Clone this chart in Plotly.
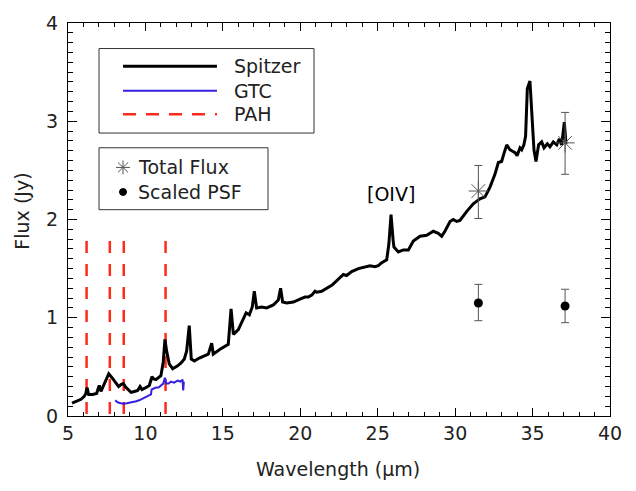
import plotly.graph_objects as go

# ---------------- data ----------------
spitzer_x = [5.26, 5.52, 5.84, 6.05, 6.15, 6.23, 6.33, 6.59, 6.85, 6.95, 7.02, 7.13, 7.28, 7.45, 7.63,
             7.84, 8.1, 8.27, 8.42, 8.57, 8.75, 9.07, 9.28, 9.5, 9.65, 9.78, 10.04, 10.25, 10.42, 10.51,
             10.68, 11.0, 11.15, 11.26, 11.37, 11.54, 11.76, 12.08, 12.3, 12.51, 12.66, 12.83, 12.96,
             13.16, 13.48, 13.8, 14.06, 14.28, 14.38, 14.82, 15.35, 15.53, 15.68, 16.0, 16.32, 16.5,
             16.71, 16.9, 17.03, 17.18, 17.5, 17.83, 18.26, 18.58, 18.73, 18.86, 19.12, 19.55, 19.98,
             20.3, 20.52, 20.74, 20.95, 21.06, 21.38, 21.7, 22.03, 22.24, 22.45, 22.78, 22.99, 23.32,
             23.75, 24.07, 24.5, 24.82, 25.04, 25.26, 25.58, 25.72, 25.86, 26.0, 26.05, 26.33, 26.65,
             26.98, 27.3, 27.73, 28.16, 28.59, 28.91, 29.13, 29.34, 29.67, 29.88, 30.1, 30.31, 30.74,
             31.17, 31.6, 31.93, 32.25, 32.57, 32.79, 33.0, 33.15, 33.33, 33.54, 33.87, 34.0, 34.19,
             34.3, 34.44, 34.55, 34.66, 34.83, 34.94, 35.09, 35.22, 35.39, 35.59, 35.74, 35.95, 36.12,
             36.34, 36.56, 36.73, 36.88, 37.05, 37.16]
spitzer_y = [0.13, 0.15, 0.17, 0.20, 0.23, 0.29, 0.22, 0.22, 0.23, 0.28, 0.31, 0.25, 0.30, 0.37, 0.43,
             0.39, 0.33, 0.30, 0.32, 0.33, 0.29, 0.24, 0.25, 0.26, 0.30, 0.27, 0.29, 0.31, 0.40, 0.38,
             0.37, 0.41, 0.55, 0.78, 0.66, 0.53, 0.48, 0.51, 0.54, 0.58, 0.66, 0.92, 0.58,
             0.56, 0.59, 0.61, 0.63, 0.74, 0.63, 0.68, 0.73, 1.09, 0.83, 0.88, 0.98, 1.05,
             1.03, 1.11, 1.27, 1.10, 1.11, 1.10, 1.13, 1.18, 1.30, 1.16, 1.15, 1.16, 1.19,
             1.21, 1.21, 1.23, 1.27, 1.26, 1.27, 1.30, 1.33, 1.36, 1.39, 1.44, 1.43, 1.47,
             1.50, 1.51, 1.53, 1.52, 1.53, 1.56, 1.59, 1.75, 2.05, 1.78, 1.72, 1.67, 1.69,
             1.69, 1.78, 1.83, 1.84, 1.88, 1.86, 1.83, 1.88, 1.98, 2.00, 1.98, 1.99, 2.08,
             2.16, 2.21, 2.23, 2.33, 2.46, 2.58, 2.59, 2.67, 2.76, 2.71, 2.68, 2.65, 2.73,
             2.71, 2.76, 2.85, 3.33, 3.41, 3.13, 2.71, 2.59, 2.76, 2.79, 2.73, 2.77, 2.74,
             2.79, 2.76, 2.82, 2.76, 2.99, 2.77]

gtc_x = [8.05, 8.2, 8.4, 8.6, 8.8, 9.0, 9.2, 9.4, 9.6, 9.8, 9.93, 10.1, 10.25, 10.36, 10.40, 10.5,
         10.68, 10.85, 11.0, 11.15, 11.26, 11.33, 11.5, 11.65, 11.85, 12.08, 12.25, 12.4, 12.44, 12.48]
gtc_y = [0.16, 0.14, 0.13, 0.125, 0.13, 0.135, 0.14, 0.15, 0.16, 0.175, 0.19, 0.20, 0.21, 0.22, 0.27,
         0.28, 0.29, 0.29, 0.31, 0.33, 0.39, 0.33, 0.33, 0.35, 0.34, 0.36, 0.35, 0.37, 0.26, 0.35]

pah_x = [6.2, 7.7, 8.6, 11.3]
pah_top = 1.78

total_x = [31.5, 37.1]
total_y = [2.29, 2.78]
total_err_plus = [0.26, 0.31]
total_err_minus = [0.28, 0.32]

psf_x = [31.5, 37.1]
psf_y = [1.15, 1.12]
psf_err_plus = [0.19, 0.17]
psf_err_minus = [0.18, 0.17]

x_ticks = [5, 10, 15, 20, 25, 30, 35, 40]
y_ticks = [0, 1, 2, 3, 4]

FONT = "DejaVu Sans"
FS = 19
TXT = "#222222"
BLUE = "#3420e0"
RED = "#ff2a1a"
GRAY = "#555555"

fig = go.Figure()

# PAH lines
for v in pah_x:
    fig.add_trace(go.Scatter(x=[v, v], y=[pah_top, 0], mode="lines",
                             line=dict(color=RED, width=2.5, dash="12px,11px"),
                             showlegend=False, hoverinfo="skip"))

fig.add_trace(go.Scatter(x=gtc_x, y=gtc_y, mode="lines",
                         line=dict(color=BLUE, width=2), showlegend=False))
fig.add_trace(go.Scatter(x=spitzer_x, y=spitzer_y, mode="lines",
                         line=dict(color="black", width=3), showlegend=False))

fig.add_trace(go.Scatter(x=total_x, y=total_y, mode="markers",
                         marker=dict(symbol="asterisk-open", size=16, color=GRAY,
                                     line=dict(color=GRAY, width=1)),
                         error_y=dict(type="data", array=total_err_plus, arrayminus=total_err_minus,
                                      color=GRAY, thickness=1, width=4),
                         showlegend=False))
fig.add_trace(go.Scatter(x=psf_x, y=psf_y, mode="markers",
                         marker=dict(symbol="circle", size=9, color="black"),
                         error_y=dict(type="data", array=psf_err_plus, arrayminus=psf_err_minus,
                                      color=GRAY, thickness=1, width=4),
                         showlegend=False))

# plot area pixel geometry
L, R, T, B = 68, 610, 16, 416
W, H = R - L, B - T


def px(xp):
    return (xp - L) / W


def py(yp):
    return (B - yp) / H


shapes = []
annotations = []

# legend box 1
shapes.append(dict(type="rect", xref="paper", yref="paper", x0=px(99), x1=px(314), y0=py(128), y1=py(42),
                   line=dict(color="#333333", width=1)))
leg1 = [("Spitzer", "black", 3, "solid", 60), ("GTC", BLUE, 2, "solid", 85),
        ("PAH", RED, 2.5, "13px,10px", 109)]
for name, col, w, dash, yp in leg1:
    shapes.append(dict(type="line", xref="paper", yref="paper", x0=px(123), x1=px(217), y0=py(yp), y1=py(yp),
                       line=dict(color=col, width=w, dash=dash)))
    annotations.append(dict(text=name, xref="paper", yref="paper", x=px(232), y=py(yp), xanchor="left",
                            yanchor="middle", showarrow=False, font=dict(family=FONT, size=FS, color=TXT)))

# legend box 2
shapes.append(dict(type="rect", xref="paper", yref="paper", x0=px(99), x1=px(268), y0=py(206), y1=py(143),
                   line=dict(color="#333333", width=1)))
ax_c, ay_c = 123, 163
for dx, dy in [(0, 7), (7, 0), (5, 5), (5, -5)]:
    shapes.append(dict(type="line", xref="paper", yref="paper",
                       x0=px(ax_c - dx), x1=px(ax_c + dx), y0=py(ay_c - dy), y1=py(ay_c + dy),
                       line=dict(color=GRAY, width=1)))
dx_c, dy_c = 123, 188
shapes.append(dict(type="circle", xref="paper", yref="paper",
                   x0=px(dx_c - 3.5), x1=px(dx_c + 3.5), y0=py(dy_c + 3.5), y1=py(dy_c - 3.5),
                   fillcolor="black", line=dict(color="black", width=1)))
for name, yp in [("Total Flux", 163), ("Scaled PSF", 188)]:
    annotations.append(dict(text=name, xref="paper", yref="paper", x=px(136), y=py(yp), xanchor="left",
                            yanchor="middle", showarrow=False, font=dict(family=FONT, size=FS, color=TXT)))

# [OIV] label
annotations.append(dict(text="[OIV]", x=25.86, y=2.26, xref="x", yref="y", showarrow=False,
                        font=dict(family=FONT, size=FS, color="black")))

# axis titles
annotations.append(dict(text="Wavelength (\u03bcm)", xref="paper", yref="paper", x=px(338), y=py(470),
                        xanchor="center", yanchor="middle", showarrow=False,
                        font=dict(family=FONT, size=FS, color=TXT)))
annotations.append(dict(text="Flux (Jy)", xref="paper", yref="paper", x=px(22), y=py(208),
                        xanchor="center", yanchor="middle", textangle=-90, showarrow=False,
                        font=dict(family=FONT, size=FS, color=TXT)))

fig.update_layout(
    width=636, height=491,
    margin=dict(l=L, r=636 - R, t=T, b=491 - B),
    plot_bgcolor="white",
    xaxis=dict(range=[5, 40], tick0=x_ticks[0], dtick=x_ticks[1] - x_ticks[0],
               ticks="inside", ticklen=8, mirror="allticks", showline=True,
               linecolor="black", tickcolor="black", showgrid=False,
               tickfont=dict(family=FONT, size=FS, color=TXT),
               minor=dict(ticks="inside", dtick=1, ticklen=4, tickcolor="black")),
    yaxis=dict(range=[0, 4], tick0=y_ticks[0], dtick=y_ticks[1] - y_ticks[0],
               ticks="inside", ticklen=9, mirror="allticks", showline=True,
               linecolor="black", tickcolor="black", showgrid=False, ticklabelstandoff=5,
               tickfont=dict(family=FONT, size=FS, color=TXT),
               minor=dict(ticks="inside", dtick=0.1, ticklen=5, tickcolor="black")),
    shapes=shapes, annotations=annotations, showlegend=False,
)

fig.write_html("out.html")
